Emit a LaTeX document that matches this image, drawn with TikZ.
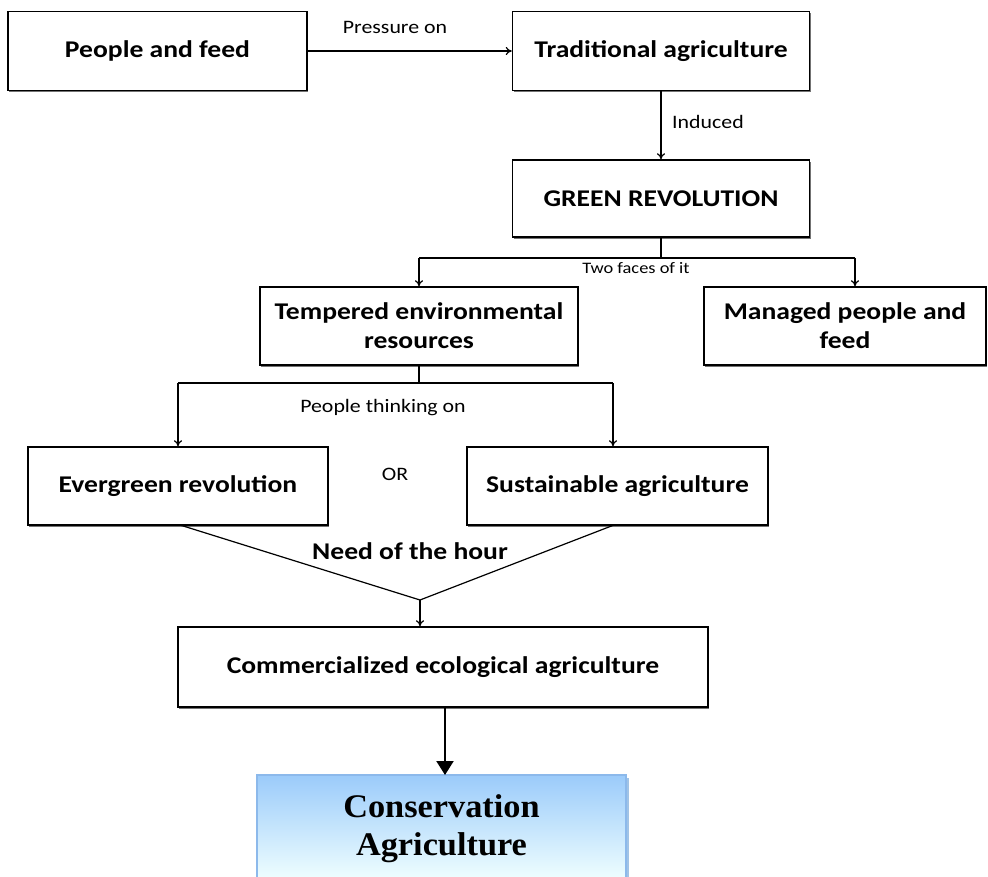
\documentclass[tikz,border=0pt]{standalone}
\usepackage{fontspec}
\setmainfont{Carlito}
\newfontfamily\boxfont[FakeStretch=1.15]{Carlito}
\newfontfamily\serifbold[FakeStretch=1.04]{Liberation Serif}
\usetikzlibrary{arrows.meta,shadows}
\begin{document}
\begin{tikzpicture}[x=1pt,y=-1pt,
  box/.style={draw=black,line width=1.5pt,fill=white,rectangle,inner sep=2pt,align=center,
    font=\boxfont\bfseries\fontsize{24}{29}\selectfont,
    drop shadow={shadow xshift=1.2pt,shadow yshift=-1.6pt,fill=black!55,opacity=1}},
  lbl/.style={font=\boxfont\fontsize{19}{22}\selectfont,inner sep=1pt},
  conn/.style={line width=1.2pt,-{To[length=6pt,width=8pt]}},
  plain/.style={line width=1.2pt}]
\useasboundingbox (0,0) rectangle (988,877);
\fill[white] (0,0) rectangle (988,877);

\node[box,minimum width=299pt,minimum height=79pt] (pf) at (157.5,51) {People and feed};
\node[box,minimum width=297pt,minimum height=79pt] (ta) at (661,51) {Traditional agriculture};
\node[box,minimum width=297pt,minimum height=77pt] (gr) at (661,198.5) {GREEN REVOLUTION};
\node[box,minimum width=318pt,minimum height=78pt] (te) at (419,326) {Tempered environmental\\resources};
\node[box,minimum width=282pt,minimum height=78pt] (mp) at (845,326) {Managed people and\\feed};
\node[box,minimum width=300pt,minimum height=78pt] (ev) at (178,486) {Evergreen revolution};
\node[box,minimum width=301pt,minimum height=78pt] (sa) at (617.5,486) {Sustainable agriculture};
\node[box,minimum width=530pt,minimum height=80pt] (ce) at (443,667) {Commercialized ecological agriculture};

\shade[top color={rgb,255:red,155;green,203;blue,250},bottom color={rgb,255:red,240;green,255;blue,255}]
  (257,775) rectangle (626,881);
\draw[line width=1.2pt,draw={rgb,255:red,140;green,185;blue,235}] (257,881) -- (257,775) -- (626,775) -- (626,881);
\draw[line width=2pt,draw={rgb,255:red,160;green,195;blue,230}] (627.5,778) -- (627.5,881);
\node[inner sep=0pt,minimum width=369pt,minimum height=90pt,align=center,
  font=\serifbold\bfseries\fontsize{33}{38}\selectfont] (ca) at (441.5,828.5) {Conservation\\Agriculture};

% connectors
\draw[conn] (pf.east) -- (ta.west);
\node[lbl] (l1) at (395,27) {Pressure on};
\draw[conn] (ta.south) -- (gr.north);
\node[lbl] (l2) at (708,122) {Induced};

\coordinate (j1) at (gr.south |- 0,258);
\coordinate (j1l) at (te.north |- j1);
\coordinate (j1r) at (855,258);
\draw[plain] (gr.south) -- (j1);
\draw[plain] (j1l) -- (j1r);
\draw[conn] (j1l) -- (te.north);
\draw[conn] (j1r) -- (j1r |- mp.north);
\node[lbl,font=\boxfont\fontsize{16}{19}\selectfont] (l3) at (636,268) {Two faces of it};

\coordinate (j2) at (te.south |- 0,383);
\coordinate (j2l) at (ev.north |- j2);
\coordinate (j2r) at (613,383);
\draw[plain] (te.south) -- (j2);
\draw[plain] (j2l) -- (j2r);
\draw[conn] (j2l) -- (ev.north);
\draw[conn] (j2r) -- (j2r |- sa.north);
\node[lbl] (l4) at (383,408) {People thinking on};
\node[lbl] (or) at (395,474) {OR};

\coordinate (apex) at (420,600);
\coordinate (sl) at (180,525);
\coordinate (sr) at (614,525);
\draw[plain] (sl) -- (apex) -- (sr);
\node[font=\boxfont\bfseries\fontsize{24}{28}\selectfont,inner sep=1pt] (l5) at (410,551) {Need of the hour};
\draw[conn] (apex) -- (apex |- ce.north);

\draw[line width=2.2pt,-{Triangle[length=14pt,width=17pt]}] (445,708) -- (445,775);
\end{tikzpicture}
\end{document}
